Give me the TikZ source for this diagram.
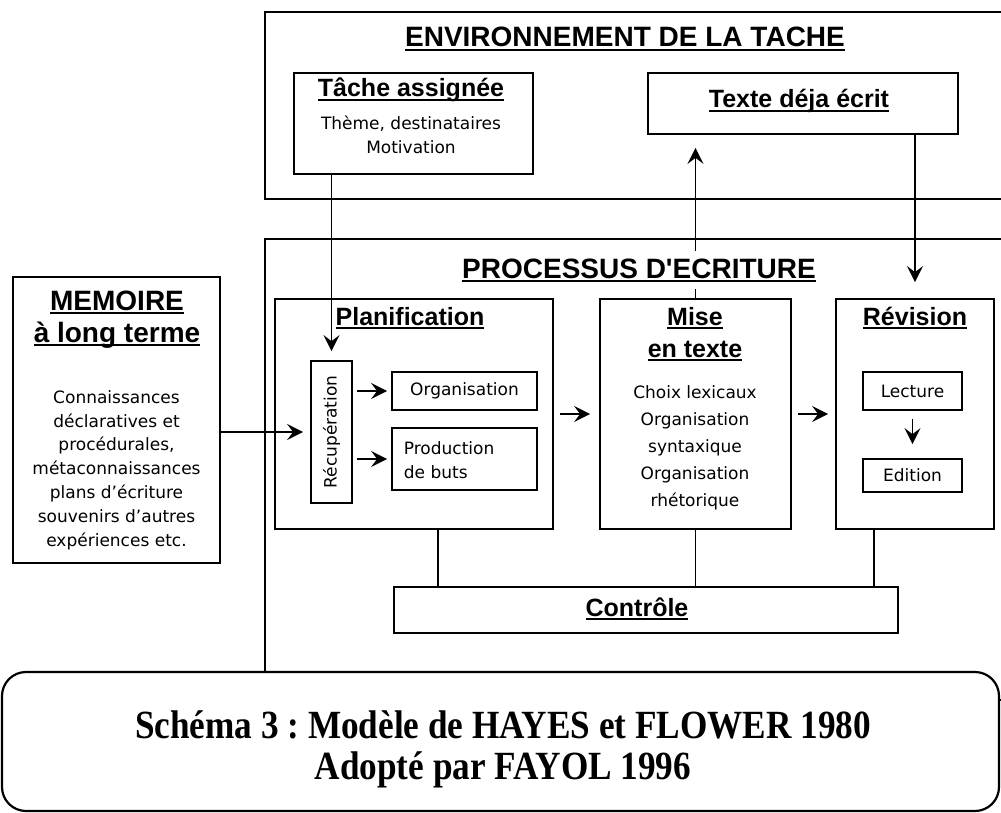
\documentclass[tikz,border=0pt]{standalone}
\usepackage{fontspec}
\setmainfont{DejaVu Sans}
\newfontfamily\titrefont{Liberation Sans}
\newfontfamily\legendefont[FakeStretch=0.88]{Liberation Serif}
\usetikzlibrary{arrows.meta}
\newcommand\souligne[1]{\setbox0=\hbox{#1}\leavevmode\rlap{\rule[-4pt]{\wd0}{1.8pt}}\box0}
\frenchspacing
\begin{document}
\begin{tikzpicture}[
	x=1pt, y=-1pt,
	>={Stealth[length=16pt,width=16pt,inset=6pt]},
	line width=1.8pt,
	boite/.style={draw, line width=1.8pt, inner sep=0pt},
	titre/.style={font=\titrefont\bfseries\fontsize{25}{28}\selectfont, inner sep=0pt},
	grandtitre/.style={font=\titrefont\bfseries\fontsize{28}{30}\selectfont, inner sep=0pt},
	corps/.style={font=\fontsize{17}{23.8}\selectfont, align=center, inner sep=0pt}
	]
	\useasboundingbox (0,0) rectangle (1001,813);
	\clip (0,0) rectangle (1001,813);
	\node[boite, minimum width=747pt, minimum height=187pt] (env) at (638.5,105.5) {};
	\node[grandtitre, anchor=base] (envtitre) at (625,47) {\souligne{ENVIRONNEMENT DE LA TACHE}};
	\node[boite, minimum width=239pt, minimum height=101pt] (tache) at (413.5,123.5) {};
	\node[titre, anchor=base] (tachetitre) at (411,97) {\souligne{Tâche assignée}};
	\node[corps] (tachecorps) at (411,135) {Thème, destinataires\\Motivation};
	\node[boite, minimum width=310pt, minimum height=61pt] (ecrit) at (803,103.5) {};
	\node[titre, anchor=base] (ecrittitre) at (799,108) {\souligne{Texte déja écrit}};

	\node[boite, minimum width=747pt, minimum height=461pt] (proc) at (638.5,469.5) {};
	\node[boite, minimum width=207pt, minimum height=286pt] (memoire) at (116.5,420) {};
	\node[grandtitre, anchor=base] (memtitre1) at (117,310) {\souligne{MEMOIRE}};
	\node[grandtitre, anchor=base] (memtitre2) at (117,342) {\souligne{à long terme}};
	\node[corps] (memcorps) at (116.5,470) {Connaissances\\déclaratives et\\procédurales,\\métaconnaissances\\plans d'écriture\\souvenirs d'autres\\expériences etc.};

	\node[boite, minimum width=278pt, minimum height=230pt] (planif) at (414,414) {};
	\node[titre, anchor=base] (planiftitre) at (410,325) {\souligne{Planification}};
	\node[boite, minimum width=41pt, minimum height=142pt] (recup) at (331.5,432) {};
	\node[corps, rotate=90] (recuptexte) at (331.5,432) {Récupération};
	\node[boite, corps, minimum width=145pt, minimum height=38pt] (orga) at (464.5,391) {Organisation};
	\node[boite, minimum width=145pt, minimum height=62pt] (prod) at (464.5,459) {};
	\node[corps, align=left, anchor=west] (prodtexte) at (403,460) {Production\\de buts};

	\node[boite, minimum width=191pt, minimum height=230pt] (mise) at (695.5,414) {};
	\node[titre, anchor=base] (misetitre1) at (695,325) {\souligne{Mise}};
	\node[titre, anchor=base] (misetitre2) at (695,357) {\souligne{en texte}};
	\node[corps, font=\fontsize{17}{27}\selectfont] (misecorps) at (695,447.5) {Choix lexicaux\\Organisation\\syntaxique\\Organisation\\rhétorique};

	\node[boite, minimum width=158pt, minimum height=230pt] (revision) at (915,414) {};
	\node[titre, anchor=base] (revtitre) at (915,325) {\souligne{Révision}};
	\node[boite, corps, minimum width=99pt, minimum height=38pt] (lecture) at (912.5,391) {Lecture};
	\node[boite, corps, minimum width=99pt, minimum height=33pt] (edition) at (912.5,475.5) {Edition};

	\node[boite, minimum width=504pt, minimum height=46pt] (controle) at (646,610) {};
	\node[titre, anchor=base] (controletitre) at (637,616) {\souligne{Contrôle}};

	\draw[->, shorten >=13pt] (mise.north) -- (mise.north |- ecrit.south);
	\draw[->, shorten >=16pt] (ecrit.south -| revision.north) -- (revision.north);
	\draw[->, shorten >=9pt] (tache.south -| recup.north) -- (recup.north);
	\draw[->, shorten >=7pt] (memoire.east |- recup.west) -- (recup.west);
	\draw[->, shorten <=4pt, shorten >=4pt] (recup.east |- orga.west) -- (orga.west);
	\draw[->, shorten <=4pt, shorten >=4pt] (recup.east |- prod.west) -- (prod.west);
	\draw[->, shorten <=6pt, shorten >=9pt] (planif.east) -- (mise.west);
	\draw[->, shorten <=6pt, shorten >=7pt] (mise.east) -- (revision.west);
	\draw[->, shorten <=8pt, shorten >=14pt] (lecture.south) -- (edition.north);
	\coordinate (planifpied) at ([xshift=24pt]planif.south);
	\coordinate (revisionpied) at ([xshift=-41pt]revision.south);
	\draw (planifpied) -- (planifpied |- controle.north);
	\draw (mise.south) -- (mise.south |- controle.north);
	\draw (revisionpied) -- (revisionpied |- controle.north);
	\node[grandtitre, fill=white, inner sep=7pt, anchor=base] (proctitre) at (639,278) {\souligne{PROCESSUS D'ECRITURE}};

	\node[draw, line width=2.2pt, rounded corners=24pt, fill=white, minimum width=997pt, minimum height=139pt] (legende) at (500.5,741.5) {};
	\node[font=\legendefont\bfseries\fontsize{40}{41}\selectfont, align=center] (legendetexte) at (503,749) {Schéma 3 : Modèle de HAYES et FLOWER 1980\\Adopté par FAYOL 1996};
\end{tikzpicture}
\end{document}
